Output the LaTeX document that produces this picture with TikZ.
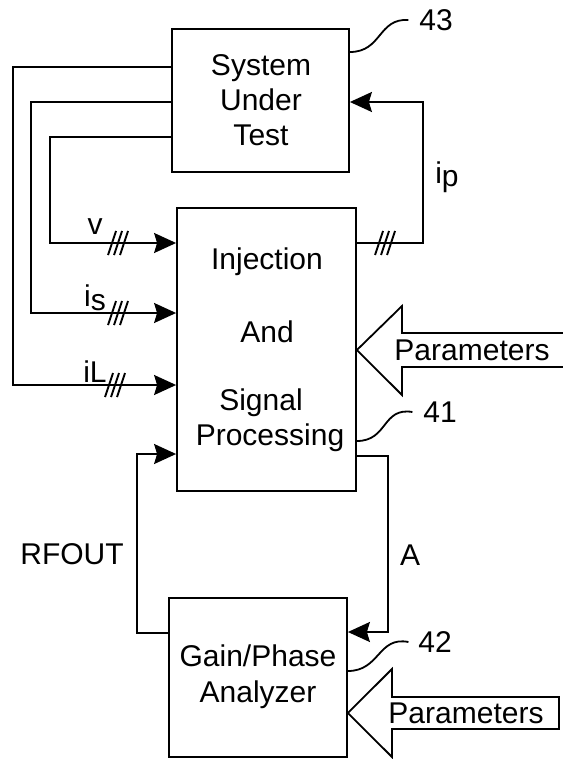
\documentclass[tikz,border=0pt]{standalone}
\usepackage{fontspec}
\setmainfont{Liberation Sans}
\usetikzlibrary{arrows.meta,positioning,calc}

\begin{document}
\begin{tikzpicture}[x=1pt,y=-1pt,line width=1.8pt,
  font=\fontsize{30}{35}\selectfont,
  blk/.style={draw,inner sep=0pt},
  lbl/.style={inner sep=0pt},
  sig/.style={-{Stealth[length=22pt,width=20pt,inset=3pt]}}]
\useasboundingbox (0,0) rectangle (562,759);
% blocks
\node[blk,minimum width=177pt,minimum height=143pt] (sut) at (260.5,100.5) {};
\node[lbl,align=center] (suttxt) at (261,100) {System\\Under\\Test};
\node[blk,minimum width=179pt,minimum height=283pt] (inj) at (266.5,349.5) {};
\node[lbl] (injt1) at (267,262) {Injection};
\node[lbl] (injt2) at (267,332) {And};
\node[lbl] (injt3) at (261,403) {Signal};
\node[lbl] (injt4) at (270,438) {Processing};
\node[blk,minimum width=178pt,minimum height=159pt] (gpa) at (258,677.5) {};
\node[lbl,align=center,font=\fontsize{30}{36}\selectfont] (gpatxt) at (258,677) {Gain/Phase\\Analyzer};
% signal lines
\draw[sig] (sut.west |- 0,137) -| (50,243) -- (inj.west |- 0,243);
\draw[sig] (sut.west |- 0,102) -| (31,313) -- (inj.west |- 0,313);
\draw[sig] (sut.west |- 0,67) -| (13,385) -- (inj.west |- 0,385);
\draw[sig] (inj.east |- 0,243) -| (423,102) -- (sut.east |- 0,102);
\draw[sig] (gpa.west |- 0,633) -| (137,454) -- (inj.west |- 0,454);
\draw[sig] (inj.east |- 0,456) -| (388,632) -- (gpa.east |- 0,632);
% bus marks
\foreach \sx/\sy in {118/243,118/313,115/385,385/243}
  \foreach \d in {0,6,12}
    \draw[line width=1.9pt] (\sx-10+\d,\sy+12) -- (\sx-2+\d,\sy-12);
\node[lbl] (vlbl) at (95,227) {v};
\node[lbl] (islbl) at (95,298) {i\raisebox{-4pt}{s}};
\node[lbl] (illbl) at (95,372) {iL};
\node[lbl] (iplbl) at (447,177) {i\raisebox{-3pt}{p}};
\node[lbl] (rfout) at (72,554) {RFOUT};
\node[lbl] (albl) at (410,555) {A};
% reference numerals
\node[lbl] (n43) at (436,20) {43};
\node[lbl] (n41) at (440,412) {41};
\node[lbl] (n42) at (435,642) {42};
\draw (sut.east |- 0,52) .. controls (382,52) and (378,18) .. ([xshift=-10pt]n43.west);
\draw (inj.east |- 0,441) .. controls (388,441) and (382,407) .. ([xshift=-10pt]n41.west);
\draw (gpa.east |- 0,671) .. controls (380,671) and (378,636) .. ([xshift=-9pt]n42.west);
% parameter inputs
\draw[fill=white] (inj.east |- 0,350) -- (402,306) -- (402,333) -- (570,333)
  -- (570,367) -- (402,367) -- (402,395) -- cycle;
\node[lbl] (par1) at (472,350) {Parameters};
\draw[fill=white] (gpa.east |- 0,713) -- (392,669) -- (392,697) -- (559,697)
  -- (559,729) -- (392,729) -- (392,757) -- cycle;
\node[lbl] (par2) at (466,713) {Parameters};
\end{tikzpicture}
\end{document}
